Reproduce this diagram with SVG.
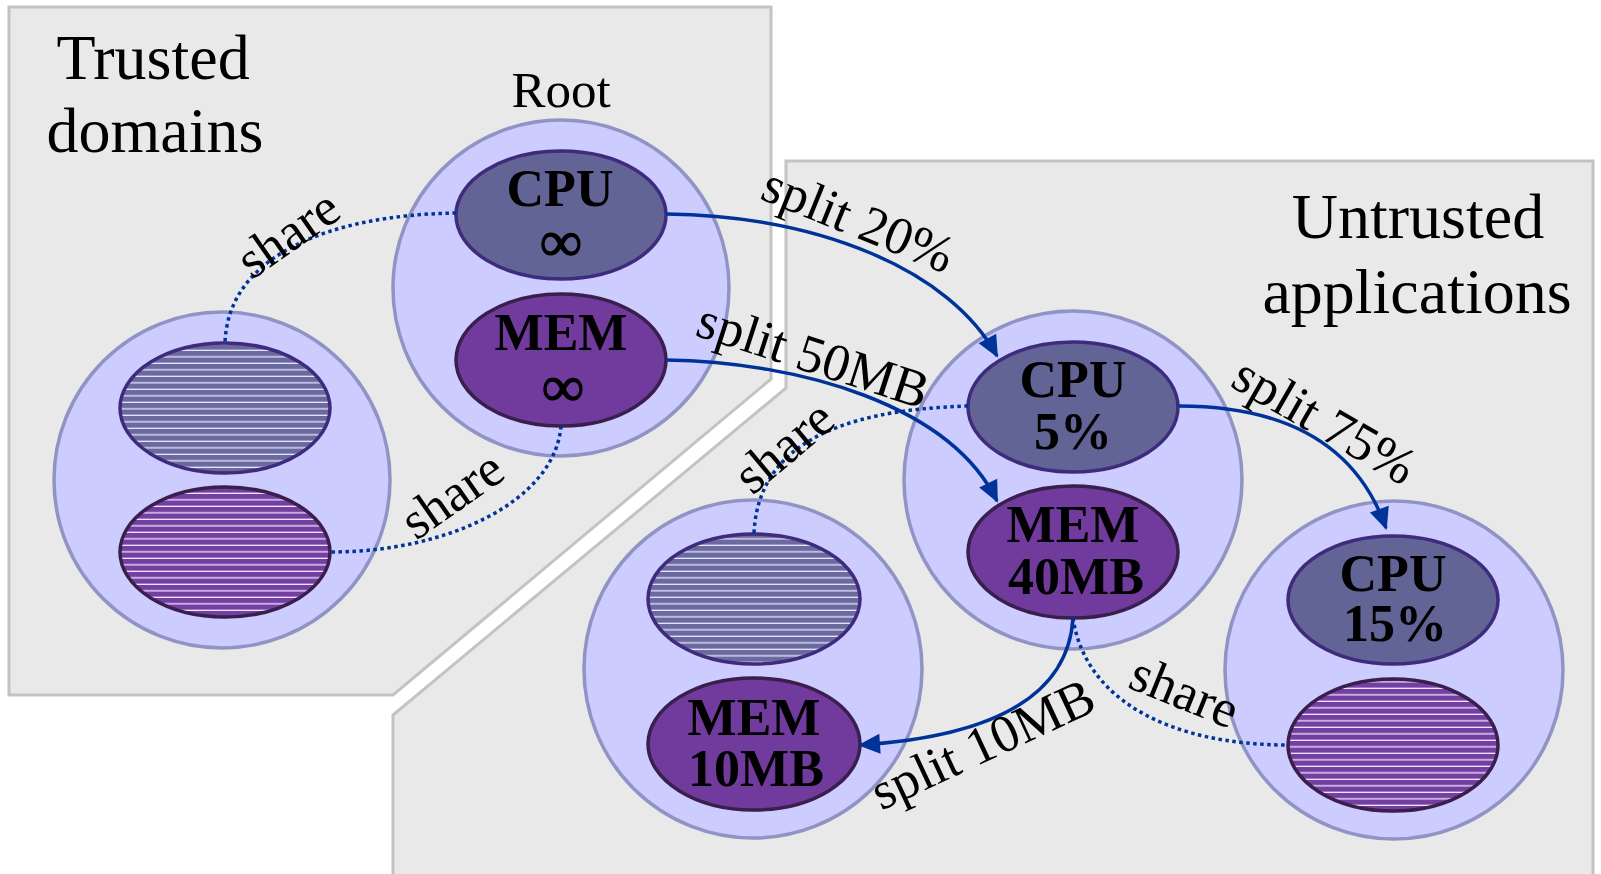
<svg xmlns="http://www.w3.org/2000/svg" width="1601" height="874" viewBox="0 0 1601 874">
<defs>
<style>
.panel{fill:#e9e9e9;stroke:#c3c3c3;stroke-width:3}
.outer{fill:#ccccff;stroke:#8f94c4;stroke-width:3.5}
.cpu{fill:#636496;stroke:#3e2b7c;stroke-width:3.5}
.mem{fill:#713b9e;stroke:#3a1f4c;stroke-width:3.5}
.cpuS{fill:url(#stripeCpu);stroke:#3e2b7c;stroke-width:3.5}
.memS{fill:url(#stripeMem);stroke:#3a1f4c;stroke-width:3.5}
.lbl{font-family:"Liberation Serif","Times New Roman",serif;font-size:52px;font-weight:bold;fill:#000;text-anchor:middle}
.inf{font-family:"Liberation Serif","Times New Roman",serif;font-size:58px;font-weight:bold;fill:#000;stroke:#000;stroke-width:1.2;text-anchor:middle}
.title{font-family:"Liberation Serif","Times New Roman",serif;font-size:64px;fill:#000;text-anchor:middle}
.edge{font-family:"Liberation Serif","Times New Roman",serif;font-size:53px;fill:#000;text-anchor:middle}
.solid{fill:none;stroke:#003399;stroke-width:3.5}
.dot{fill:none;stroke:#003399;stroke-width:3.5;stroke-dasharray:3.5 3.5}
</style>
<pattern id="stripeCpu" patternUnits="userSpaceOnUse" width="20" height="6.5">
<rect width="20" height="6.5" fill="#6a6a9e"/>
<rect y="5.2" width="20" height="1.3" fill="#e6e6ff"/>
</pattern>
<pattern id="stripeMem" patternUnits="userSpaceOnUse" width="20" height="6.5">
<rect width="20" height="6.5" fill="#733fa0"/>
<rect y="5.2" width="20" height="1.3" fill="#efe6ff"/>
</pattern>
<marker id="arrow" viewBox="-30 -15 35 30" refX="0" refY="0" markerWidth="35" markerHeight="30" markerUnits="userSpaceOnUse" orient="auto" style="overflow:visible">
<path d="M2,0 L-20,-10 L-20,10 z" fill="#003399"/>
</marker>
</defs>
<rect width="1601" height="874" fill="#ffffff"/>

<g id="panel-trusted">
<polygon class="panel" points="9,7 771,7 771,379 393,695 9,695"/>
<text class="title" x="153" y="79">Trusted</text>
<text class="title" x="155" y="152">domains</text>
</g>
<g id="panel-untrusted">
<polygon class="panel" points="786,161 1593,161 1593,876 393,876 393,715 786,388"/>
<text class="title" x="1418" y="238">Untrusted</text>
<text class="title" x="1417" y="313">applications</text>
</g>

<g id="node-trusted-domain">
<circle class="outer" cx="222" cy="480" r="168"/>
<ellipse class="cpuS" cx="225" cy="408" rx="105" ry="65"/>
<ellipse class="memS" cx="225" cy="552" rx="105" ry="65"/>
</g>

<g id="node-root">
<text class="title" x="561" y="107" style="font-size:51px">Root</text>
<circle class="outer" cx="561" cy="288" r="168"/>
<ellipse class="cpu" cx="561" cy="215" rx="105" ry="64"/>
<text class="lbl" x="560" y="206">CPU</text>
<text class="inf" x="561" y="261">∞</text>
<ellipse class="mem" cx="561" cy="360" rx="105" ry="66"/>
<text class="lbl" x="561" y="350">MEM</text>
<text class="inf" x="563" y="406">∞</text>
</g>

<g id="node-app1">
<circle class="outer" cx="1073" cy="480" r="169"/>
<ellipse class="cpu" cx="1073" cy="407" rx="105" ry="65"/>
<text class="lbl" x="1073" y="397">CPU</text>
<text class="lbl" x="1073" y="449">5%</text>
<ellipse class="mem" cx="1073" cy="552" rx="105" ry="66"/>
<text class="lbl" x="1073" y="542">MEM</text>
<text class="lbl" x="1076" y="594">40MB</text>
</g>

<g id="node-app2">
<circle class="outer" cx="753" cy="669" r="169"/>
<ellipse class="cpuS" cx="754" cy="599" rx="106" ry="65"/>
<ellipse class="mem" cx="754" cy="744" rx="106" ry="66"/>
<text class="lbl" x="754" y="735">MEM</text>
<text class="lbl" x="756" y="786">10MB</text>
</g>

<g id="node-app3">
<circle class="outer" cx="1394" cy="670" r="169"/>
<ellipse class="cpu" cx="1393" cy="600" rx="105" ry="64"/>
<text class="lbl" x="1393" y="591">CPU</text>
<text class="lbl" x="1395" y="641">15%</text>
<ellipse class="memS" cx="1393" cy="745" rx="105" ry="66"/>
</g>

<g id="connectors">
<path class="solid" d="M666,214 C820,216 950,270 997,356" marker-end="url(#arrow)"/>
<path class="solid" d="M666,360 C800,362 950,405 997,501" marker-end="url(#arrow)"/>
<path class="solid" d="M1179,406 C1280,406 1355,440 1386,528" marker-end="url(#arrow)"/>
<path class="solid" d="M1073,618 C1068,700 985,737 860,745" marker-end="url(#arrow)"/>
<path class="dot" d="M456,213 C330,215 228,255 225,343"/>
<path class="dot" d="M561,426 C555,500 450,552 330,552"/>
<path class="dot" d="M968,406 C830,410 758,450 754,533"/>
<path class="dot" d="M1073,618 C1085,700 1170,745 1288,745"/>
<text class="edge" transform="translate(852,236) rotate(22)">split 20%</text>
<text class="edge" transform="translate(808,372) rotate(18)">split 50MB</text>
<text class="edge" transform="translate(1316,436) rotate(30)">split 75%</text>
<text class="edge" transform="translate(990,760) rotate(-25)">split 10MB</text>
<text class="edge" transform="translate(298,248) rotate(-35)">share</text>
<text class="edge" transform="translate(462,509) rotate(-35)">share</text>
<text class="edge" transform="translate(795,460) rotate(-40)">share</text>
<text class="edge" transform="translate(1178,708) rotate(22)">share</text>
</g>
</svg>
